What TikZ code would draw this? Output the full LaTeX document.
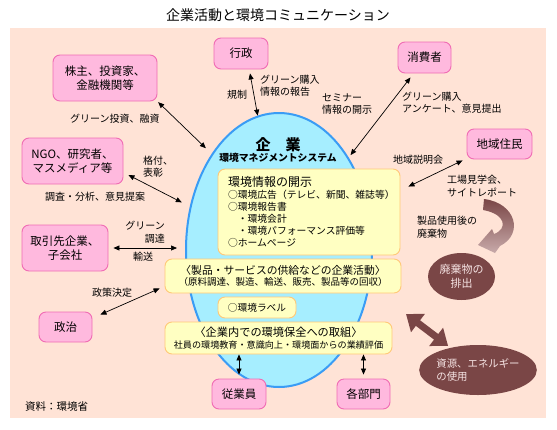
\documentclass[tikz,border=0pt]{standalone}
\usepackage{fontspec}
\setmainfont{Noto Sans CJK JP}
\usetikzlibrary{arrows.meta,shapes.geometric,calc}
\definecolor{bgpeach}{HTML}{FFE3D6}
\definecolor{pinkfill}{HTML}{FFB9DE}
\definecolor{pinkline}{HTML}{F06CB4}
\definecolor{ellfill}{HTML}{A6EEFF}
\definecolor{ellline}{HTML}{3A9CF5}
\definecolor{yelfill}{HTML}{FFFFC2}
\definecolor{yelline}{HTML}{FFC878}
\definecolor{brownd}{HTML}{7A4646}
\definecolor{brownl}{HTML}{C8AAAA}
\definecolor{lighttext}{HTML}{F6E4E4}
\begin{document}
\begin{tikzpicture}[x=1pt,y=-1pt,
  pinkbox/.style={draw=pinkline, line width=0.9pt, fill=pinkfill, rounded corners=7pt, align=center, font=\fontsize{11.5}{14.5}\selectfont, inner sep=0pt},
  yelbox/.style={draw=yelline, line width=0.9pt, fill=yelfill, rounded corners=7pt, inner sep=0pt},
  lbl/.style={font=\fontsize{10}{12.5}\selectfont, inner sep=0pt, align=left},
  dbl/.style={{Triangle[length=6pt,width=5pt]}-{Triangle[length=6pt,width=5pt]}, line width=0.7pt},
  brownell/.style={ellipse, fill=brownd, text=lighttext, align=center, font=\fontsize{11}{14}\selectfont, inner sep=0pt}
]
\useasboundingbox (0,0) rectangle (557,429);
\fill[white] (0,0) rectangle (557,429);
\fill[bgpeach] (10,28) rectangle (546,418);

% title
\node[font=\fontsize{14}{16}\selectfont] (title) at (278,15) {企業活動と環境コミュニケーション};

% central ellipse
\node[ellipse, draw=ellline, line width=2pt, fill=ellfill, minimum width=186pt, minimum height=274pt, inner sep=0pt] (ell) at (279,250) {};
\node[font=\fontsize{15}{15}\selectfont\bfseries] (kigyo) at (278,145) {企　業};
\node[font=\fontsize{9.8}{10}\selectfont\bfseries] (ems) at (278,158) {環境マネジメントシステム};

% pink boxes
\node[pinkbox, minimum width=54pt, minimum height=31pt] (gyosei) at (241,53.5) {行政};
\node[pinkbox, minimum width=104pt, minimum height=46pt] (kabu) at (105,78) {株主、投資家、\\金融機関等};
\node[pinkbox, minimum width=53pt, minimum height=31pt] (shohi) at (424.5,57.5) {消費者};
\node[pinkbox, minimum width=65pt, minimum height=30pt] (chiiki) at (499.5,144) {地域住民};
\node[pinkbox, minimum width=101pt, minimum height=46pt] (ngo) at (72.5,161) {NGO、研究者、\\マスメディア等};
\node[pinkbox, minimum width=86pt, minimum height=46pt] (torihiki) at (65,248) {取引先企業、\\子会社};
\node[pinkbox, minimum width=53pt, minimum height=30pt] (seiji) at (65.5,327) {政治};
\node[pinkbox, minimum width=54pt, minimum height=30pt] (jugyo) at (239,394) {従業員};
\node[pinkbox, minimum width=53pt, minimum height=30pt] (kabumon) at (363.5,394) {各部門};

% yellow boxes
\node[yelbox, minimum width=182pt, minimum height=86pt, text width=162pt, align=left, font=\fontsize{9.8}{12}\selectfont] (joho) at (309,212)
  {{\fontsize{12}{12}\selectfont 環境情報の開示}\\○環境広告（テレビ、新聞、雑誌等）\\○環境報告書\\　・環境会計\\　・環境パフォーマンス評価等\\○ホームページ};
\node[yelbox, minimum width=236pt, minimum height=34pt, align=center, font=\fontsize{9.5}{11.5}\selectfont] (seihin) at (283,276)
  {{\fontsize{10.8}{11.5}\selectfont 〈製品・サービスの供給などの企業活動〉}\\（原料調達、製造、輸送、販売、製品等の回収）};
\node[yelbox, minimum width=78pt, minimum height=21pt, font=\fontsize{9.7}{11}\selectfont] (label) at (257,307.5) {○環境ラベル};
\node[yelbox, minimum width=227pt, minimum height=32pt, align=center, font=\fontsize{9.1}{12.5}\selectfont] (torikumi) at (278.5,338)
  {{\fontsize{11.2}{12.5}\selectfont 〈企業内での環境保全への取組〉}\\社員の環境教育・意識向上・環境面からの業績評価};

% brown ellipses
\node[brownell, minimum width=67pt, minimum height=47pt] (haiki) at (461.5,276.5) {廃棄物の\\排出};
\node[brownell, minimum width=104pt, minimum height=50pt, font=\fontsize{10.4}{13}\selectfont, align=left] (shigen) at (478,370) {資源、エネルギー\\ の使用};

% connectors
\draw[dbl] ([xshift=9pt,yshift=-4pt]gyosei.south) -- (ell.99);
\draw[dbl, shorten <=1pt, shorten >=8pt] (kabu.south east) -- (ell.125);
\draw[dbl, shorten >=3pt] ([xshift=-14pt,yshift=-4pt]shohi.south) -- (ell.53);
\draw[dbl] ([xshift=-4pt,yshift=-1pt]chiiki.south west) -- ([xshift=8pt,yshift=-18pt]joho.north east);
\draw[dbl, shorten >=9pt] ([xshift=5pt,yshift=-14pt]ngo.east) -- (ell.154);
\draw[dbl, shorten <=5pt, shorten >=8pt] (torihiki.east) -- (torihiki.east -| ell.west);
\draw[dbl] ([xshift=8pt,yshift=-3pt]seiji.north east) -- ([xshift=-5pt,yshift=5pt]seihin.south west);
\draw[dbl, shorten <=4pt] (jugyo.north) -- (jugyo.north |- torikumi.south);
\draw[dbl, shorten <=4pt] (kabumon.north) -- (kabumon.north |- torikumi.south);

% thick brown double arrow
\coordinate (ra) at (406,314);
\draw[brownd, line width=7pt, {Triangle[length=15pt,width=22pt]}-{Triangle[length=15pt,width=22pt]}, shorten >=3pt] (ra) -- (shigen.141);

% curved brown arrow
\shade[top color=brownd, bottom color=brownl]
  (484,199) .. controls (516,203) and (524,234) .. (500,246)
  -- (495,253) -- (478,245) -- (492,229) -- (494,234)
  .. controls (508,229) and (506,214) .. (483,210) -- cycle;

% labels
\node[lbl, anchor=west] (l1) at (227,95) {規制};
\node[lbl, anchor=west] (l2) at (260,85.5) {グリーン購入\\情報の報告};
\node[lbl, anchor=west] (l3) at (322,104) {セミナー\\情報の開示};
\node[lbl, anchor=west] (l4) at (402,102.5) {グリーン購入\\アンケート、意見提出};
\node[lbl, anchor=west] (l5) at (70,119) {グリーン投資、融資};
\node[lbl, anchor=west] (l6) at (143,166.5) {格付、\\表彰};
\node[lbl, anchor=west] (l7) at (45,197) {調査・分析、意見提案};
\node[lbl, anchor=east, align=right] (l8) at (165,232) {グリーン\\調達};
\node[lbl, anchor=west] (l9) at (133,257) {輸送};
\node[lbl, anchor=west] (l10) at (393,160) {地域説明会};
\node[lbl, anchor=west] (l11) at (447,186) {工場見学会、\\サイトレポート};
\node[lbl, anchor=west] (l12) at (417,227) {製品使用後の\\廃棄物};
\node[lbl, anchor=west] (l13) at (92,293) {政策決定};
\node[lbl, anchor=west, font=\fontsize{10.5}{12}\selectfont] (src) at (25,407) {資料：環境省};
\end{tikzpicture}
\end{document}
